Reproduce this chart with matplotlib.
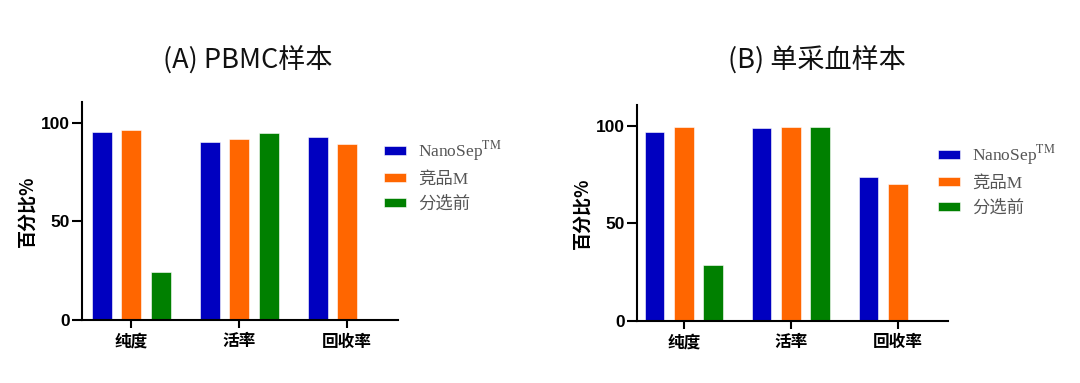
import matplotlib
matplotlib.use('Agg')
import matplotlib.pyplot as plt
import numpy as np

plt.rcParams['font.family'] = ['Noto Sans CJK SC', 'DejaVu Sans']
plt.rcParams['mathtext.fontset'] = 'stix'

categories = ['纯度', '活率', '回收率']
series_names = ['NanoSep$^{\\mathrm{TM}}$', '竞品M', '分选前']
colors = ['#0000C0', '#FF6600', '#008000']

# (A) PBMC样本
pbmc_nanosep = [95.3, 90.2, 92.9]
pbmc_m = [96.5, 91.9, 89.0]
pbmc_before = [24.5, 94.8, None]

# (B) 单采血样本
blood_nanosep = [96.6, 98.8, 73.5]
blood_m = [99.3, 99.3, 69.9]
blood_before = [28.5, 99.3, None]

titles = ['(A) PBMC样本', '(B) 单采血样本']

fig = plt.figure(figsize=(10.8, 3.83), dpi=100)
ax1 = fig.add_axes([0.0759, 0.1645, 0.2926, 0.569])
ax2 = fig.add_axes([0.5895, 0.1627, 0.2882, 0.563])


def draw(ax, data, title, xlim, leg_anchor, title_x):
    x = np.arange(len(categories))
    w = 0.185
    step = 0.273
    handles = []
    for i, (vals, c) in enumerate(zip(data, colors)):
        xs = [xx + (i - 1) * step for xx, v in zip(x, vals) if v is not None]
        vs = [v for v in vals if v is not None]
        b = ax.bar(xs, vs, width=w, color=c, edgecolor='white', linewidth=0.4)
        handles.append(b)
    ax.set_xlim(*xlim)
    ax.set_ylim(0, 110.5)
    ax.set_yticks([0, 50, 100])
    ax.set_yticklabels(['0', '50', '100'], family=['Liberation Sans', 'DejaVu Sans'],
                       fontweight='bold', fontsize=12.5)
    ax.set_xticks(x)
    ax.set_xticklabels(categories, fontweight='bold', fontsize=12)
    for s in ['top', 'right']:
        ax.spines[s].set_visible(False)
    for s in ['left', 'bottom']:
        ax.spines[s].set_linewidth(1.5)
    ax.tick_params(axis='y', length=7, width=1.5, pad=1.5)
    ax.tick_params(axis='x', length=6, width=1.5, pad=3)
    ax.set_ylabel('百分比%', fontweight='bold', fontsize=13, labelpad=3)
    leg = ax.legend(handles, series_names, loc='upper left', bbox_to_anchor=leg_anchor,
                    frameon=False, borderpad=0, borderaxespad=0, handlelength=1.25,
                    handleheight=0.4, handletextpad=0.7, labelspacing=0.5,
                    prop={'family': ['Liberation Serif', 'Noto Sans CJK SC'], 'size': 12.5})
    for t in leg.get_texts():
        t.set_color('#555555')
    fig.text(title_x, 1 - 60 / 383, title, ha='center', va='center', fontsize=19.5, color='#111111')


draw(ax1, [pbmc_nanosep, pbmc_m, pbmc_before], titles[0], (-0.454, 2.47), (0.956, 0.83), 248 / 1080)
draw(ax2, [blood_nanosep, blood_m, blood_before], titles[1], (-0.44, 2.47), (0.968, 0.824), 817 / 1080)

fig.savefig('out.png', dpi=100)
